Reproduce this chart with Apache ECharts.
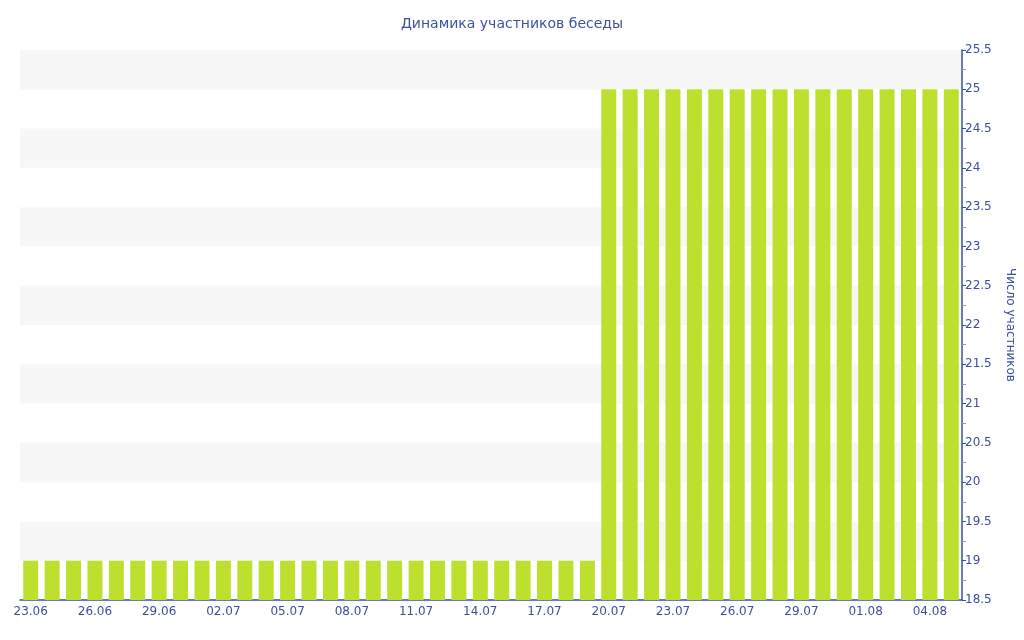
<!DOCTYPE html>
<html><head><meta charset="utf-8">
<script src="https://cdn.jsdelivr.net/npm/echarts@6/dist/echarts.min.js"></script>
<style>html,body{margin:0;padding:0;background:#fff}#c{width:1024px;height:640px}</style>
</head><body><div id="c"></div>
<script>
const dates = ["23.06","24.06","25.06","26.06","27.06","28.06","29.06","30.06",
"01.07","02.07","03.07","04.07","05.07","06.07","07.07","08.07","09.07","10.07",
"11.07","12.07","13.07","14.07","15.07","16.07","17.07","18.07","19.07","20.07",
"21.07","22.07","23.07","24.07","25.07","26.07","27.07","28.07","29.07","30.07",
"31.07","01.08","02.08","03.08","04.08","05.08"];
const members = [19,19,19,19,19,19,19,19,19,19,19,19,19,19,19,19,19,19,19,19,19,19,19,19,19,19,19,
25,25,25,25,25,25,25,25,25,25,25,25,25,25,25,25,25];
const titleText = "Динамика участников беседы";
const yName = "Число участников";
const axisColor = "#3a4f9e";
const font = "Verdana, 'DejaVu Sans', sans-serif";
const chart = echarts.init(document.getElementById('c'));
chart.setOption({
  animation: false,
  title: {text: titleText, left: 'center', top: 12,
    textStyle: {color: '#3c53a0', fontSize: 14, fontWeight: 'normal', fontFamily: font}},
  grid: {left: 20, right: 59, top: 50, bottom: 40},
  xAxis: {type: 'category', data: dates,
    axisLine: {lineStyle: {color: axisColor, width: 1.5}},
    axisTick: {alignWithLabel: true, interval: 2, length: 4, lineStyle: {color: '#8890b0'}},
    axisLabel: {interval: 2, color: axisColor, fontSize: 12, fontFamily: font, margin: 6}},
  yAxis: {type: 'value', position: 'right', min: 18.5, max: 25.5, interval: 0.5,
    name: yName, nameLocation: 'middle', nameGap: 42, nameRotate: -90,
    nameTextStyle: {color: axisColor, fontSize: 12, fontFamily: font},
    axisLine: {show: true, lineStyle: {color: axisColor, width: 1.5}},
    axisTick: {show: true, inside: false, length: 4, lineStyle: {color: axisColor}},
    minorTick: {show: true, splitNumber: 2, length: 4, lineStyle: {color: '#999'}},
    axisLabel: {color: axisColor, fontSize: 12, fontFamily: font, margin: 3},
    splitLine: {show: false},
    splitArea: {show: true, areaStyle: {color: ['rgba(255,255,255,0)', '#f7f7f7']}}},
  series: [{type: 'bar', data: members, barCategoryGap: '30%',
    itemStyle: {color: '#bde02e'}}]
});
</script></body></html>
